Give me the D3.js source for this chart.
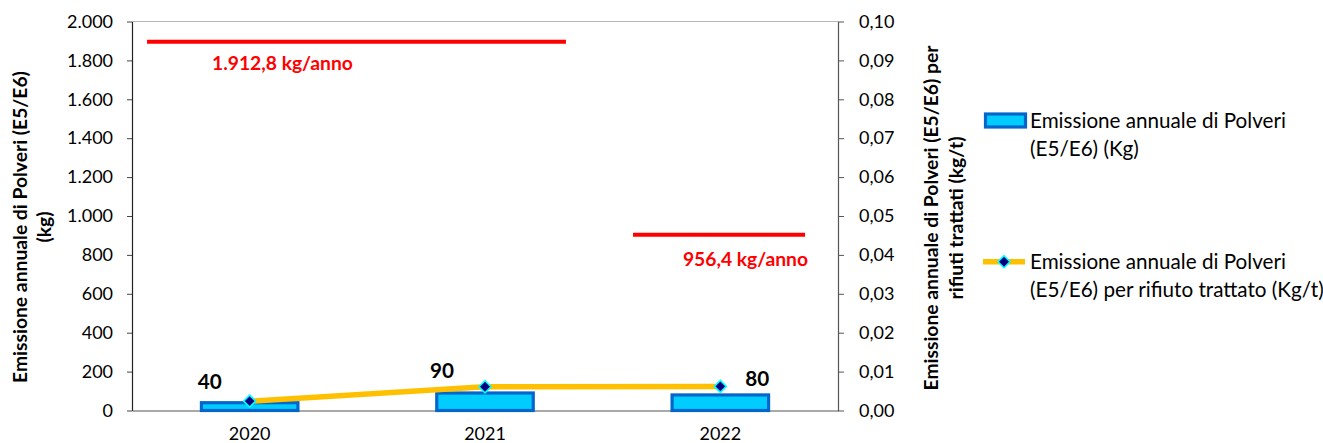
<!DOCTYPE html>
<html>
<head>
<meta charset="utf-8">
<script src="https://cdn.jsdelivr.net/npm/d3@7"></script>
<style>
  html, body { margin: 0; padding: 0; background: #fff; }
  svg { display: block; }
</style>
</head>
<body>
<svg id="chart" width="1323" height="443"></svg>
<script>
// ---------- DATA ----------
const categories = ["2020", "2021", "2022"];
const emissionKg = [40, 90, 80];                 // bars, left axis (kg)
const emissionPerTon = [0.0024, 0.0061, 0.0062]; // line, right axis (kg/t)
const leftTicks = [0, 200, 400, 600, 800, 1000, 1200, 1400, 1600, 1800, 2000];
const rightTicks = [0, 0.01, 0.02, 0.03, 0.04, 0.05, 0.06, 0.07, 0.08, 0.09, 0.10];
const limitLabels = ["1.912,8 kg/anno", "956,4 kg/anno"];
const limitLevels = [1896, 904];                 // drawn height of the red limit lines (kg)
const barSeriesName = ["Emissione annuale di Polveri", "(E5/E6) (Kg)"];
const lineSeriesName = ["Emissione annuale di Polveri", "(E5/E6) per rifiuto trattato (Kg/t)"];
const leftTitle = ["Emissione annuale di Polveri (E5/E6)", "(kg)"];
const rightTitle = ["Emissione annuale di Polveri (E5/E6) per", "rifiuti trattati (kg/t)"];

// ---------- LAYOUT ----------
const F = "Lato, 'Open Sans', sans-serif";
const plot = { left: 132, right: 838, top: 21.5, bottom: 410.5 };
const svg = d3.select("#chart");

function fit(text, weight, target) {
  const t = svg.append("text").attr("font-family", F).attr("font-weight", weight)
    .attr("font-size", 100).text(text);
  const w = t.node().getComputedTextLength();
  t.remove();
  return 100 * target / w;
}
const tickFS = fit("2.000", "normal", 46);
const dataFS = fit("40", "bold", 24);
const limitFS = fit(limitLabels[0], "bold", 141);
const legendFS = fit(barSeriesName[0], "normal", 256);
const titleFS = fit(leftTitle[0], "bold", 312);

const x = d3.scaleBand().domain(categories).range([plot.left, plot.right]).paddingInner(0).paddingOuter(0);
const xi = d3.scaleLinear().domain([0, categories.length]).range([plot.left, plot.right]);
const yL = d3.scaleLinear().domain([0, 2000]).range([plot.bottom, plot.top]);
const yR = d3.scaleLinear().domain([0, 0.1]).range([plot.bottom, plot.top]);
const cx = c => x(c) + x.bandwidth() / 2;

const fmtL = v => d3.format(",")(v).replace(/,/g, ".");
const fmtR = v => d3.format(".2f")(v).replace(".", ",");

// top gridline
svg.append("line").attr("x1", plot.left).attr("x2", plot.right)
  .attr("y1", yL(2000)).attr("y2", yL(2000)).attr("stroke", "#b8b8b8").attr("stroke-width", 1.2);

// left axis
const gL = svg.append("g").attr("transform", `translate(${plot.left},0)`)
  .call(d3.axisLeft(yL).tickValues(leftTicks).tickFormat(fmtL).tickSizeInner(5).tickSizeOuter(0).tickPadding(14));
gL.select(".domain").attr("stroke", "#222").attr("stroke-width", 1.2);
gL.selectAll(".tick line").attr("stroke", "#444");
gL.selectAll(".tick text").attr("font-family", F).attr("font-size", tickFS).attr("fill", "#000");

// right axis
const gR = svg.append("g").attr("transform", `translate(${plot.right},0)`)
  .call(d3.axisRight(yR).tickValues(rightTicks).tickFormat(fmtR).tickSizeInner(6).tickSizeOuter(0).tickPadding(15));
gR.select(".domain").attr("stroke", "#555").attr("stroke-width", 1.2);
gR.selectAll(".tick line").attr("stroke", "#555");
gR.selectAll(".tick text").attr("font-family", F).attr("font-size", tickFS).attr("fill", "#000");

// bottom axis
const gB = svg.append("g").attr("transform", `translate(0,${plot.bottom})`)
  .call(d3.axisBottom(x).tickSize(0).tickPadding(17));
gB.select(".domain").attr("stroke", "#555").attr("stroke-width", 1.2);
gB.selectAll(".tick text").attr("font-family", F).attr("font-size", tickFS).attr("fill", "#000");

// bars
const barW = x.bandwidth() * 0.41;
svg.append("g").selectAll("rect").data(categories).join("rect")
  .attr("x", (c) => cx(c) - barW / 2)
  .attr("y", (c, i) => yL(emissionKg[i]))
  .attr("width", barW)
  .attr("height", (c, i) => yL(0) - yL(emissionKg[i]))
  .attr("fill", "#00ccff").attr("stroke", "#0066cc").attr("stroke-width", 3.2);

// line
const linePts = categories.map((c, i) => [cx(c), yR(emissionPerTon[i])]);
svg.append("path").attr("d", d3.line()(linePts))
  .attr("fill", "none").attr("stroke", "#ffc000").attr("stroke-width", 5.5)
  .attr("stroke-linejoin", "round");
const diamond = "M0,-6 L6,0 L0,6 L-6,0 Z";
svg.append("g").selectAll("path").data(linePts).join("path")
  .attr("d", diamond).attr("transform", d => `translate(${d[0]},${d[1]})`)
  .attr("fill", "#000080").attr("stroke", "#00ffff").attr("stroke-width", 1.6);

// data labels (manual Excel placement offsets relative to bar centre/top)
const labelOffsets = [[-40, -21], [-43, -22], [37, -16]];
svg.append("g").selectAll("text").data(categories).join("text")
  .attr("x", (c, i) => cx(c) + labelOffsets[i][0])
  .attr("y", (c, i) => yL(emissionKg[i]) + labelOffsets[i][1])
  .attr("dy", "0.35em").attr("text-anchor", "middle")
  .attr("font-family", F).attr("font-weight", "bold").attr("font-size", dataFS)
  .attr("fill", "#000").text((c, i) => emissionKg[i]);

// red limit lines
const limitSpans = [[0.064, 1.844], [2.129, 2.86]];
const limitLabelPos = [{ x: 212, anchor: "start", dy: 21.5 }, { x: 808, anchor: "end", dy: 24.5 }];
limitLevels.forEach((lv, i) => {
  svg.append("line")
    .attr("x1", xi(limitSpans[i][0])).attr("x2", xi(limitSpans[i][1]))
    .attr("y1", yL(lv)).attr("y2", yL(lv))
    .attr("stroke", "#ff0000").attr("stroke-width", 4);
  svg.append("text")
    .attr("x", limitLabelPos[i].x).attr("y", yL(lv) + limitLabelPos[i].dy)
    .attr("dy", "0.35em").attr("text-anchor", limitLabelPos[i].anchor)
    .attr("font-family", F).attr("font-weight", "bold").attr("font-size", limitFS)
    .attr("fill", "#ff0000").text(limitLabels[i]);
});

// axis titles
function vTitle(lines, xs, cy) {
  lines.forEach((l, i) => {
    svg.append("text")
      .attr("transform", `translate(${xs[i]},${cy}) rotate(-90)`)
      .attr("text-anchor", "middle").attr("dy", "0.35em")
      .attr("font-family", F).attr("font-weight", "bold").attr("font-size", titleFS)
      .attr("fill", "#000").text(l);
  });
}
vTitle(leftTitle, [20, 44], 227);
vTitle(rightTitle, [931, 956], 218);

// legend
const lg = svg.append("g");
lg.append("rect").attr("x", 985.5).attr("y", 114).attr("width", 40).attr("height", 13)
  .attr("fill", "#00ccff").attr("stroke", "#0066cc").attr("stroke-width", 3.2);
barSeriesName.forEach((t, i) => {
  lg.append("text").attr("x", 1030).attr("y", 120.7 + i * 28.5).attr("dy", "0.35em")
    .attr("font-family", F).attr("font-size", legendFS).attr("fill", "#000").text(t);
});
lg.append("line").attr("x1", 983).attr("x2", 1025).attr("y1", 261.7).attr("y2", 261.7)
  .attr("stroke", "#ffc000").attr("stroke-width", 5.5);
lg.append("path").attr("d", diamond).attr("transform", "translate(1004,261.7)")
  .attr("fill", "#000080").attr("stroke", "#00ffff").attr("stroke-width", 1.6);
lineSeriesName.forEach((t, i) => {
  lg.append("text").attr("x", 1030).attr("y", 261.7 + i * 28.5).attr("dy", "0.35em")
    .attr("font-family", F).attr("font-size", legendFS).attr("fill", "#000").text(t);
});
</script>
</body>
</html>
